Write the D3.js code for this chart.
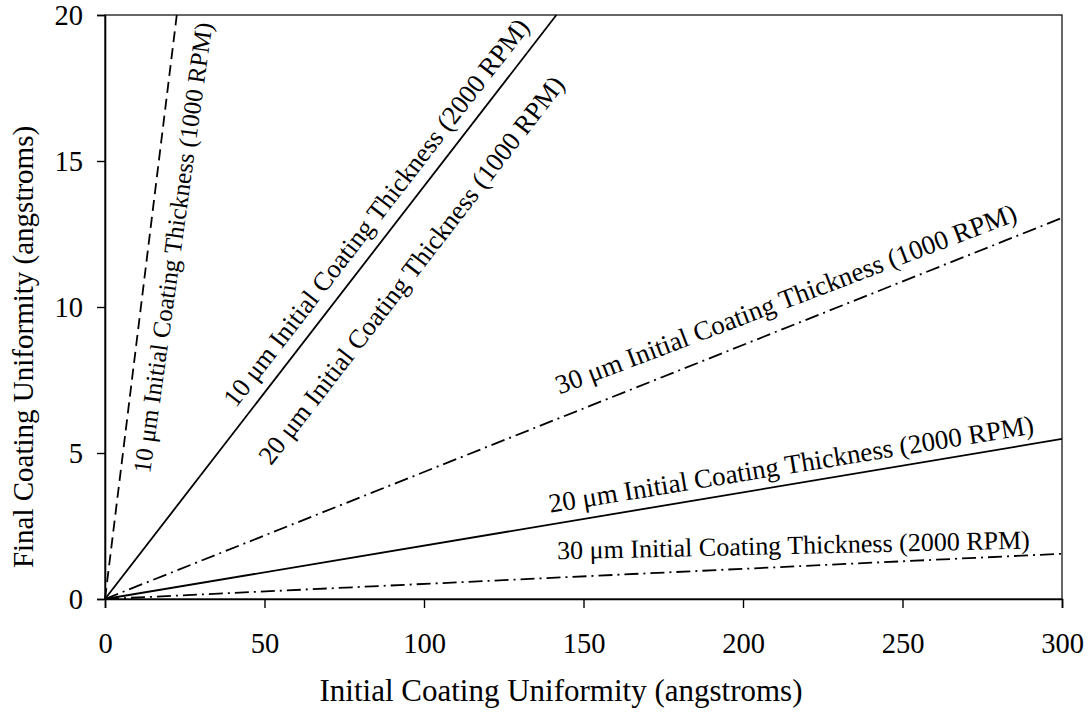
<!DOCTYPE html>
<html>
<head>
<meta charset="utf-8">
<script src="https://cdn.jsdelivr.net/npm/d3@7"></script>
<style>
  html, body { margin: 0; padding: 0; background: #fff; }
  svg { display: block; font-family: "Liberation Serif", "Times New Roman", serif; }
</style>
</head>
<body>
<svg id="chart" width="1090" height="715"></svg>
<script>
// Axis ticks
const xTicks = [0, 50, 100, 150, 200, 250, 300];
const yTicks = [0, 5, 10, 15, 20];

// Each series is a straight line from the origin to where it leaves the plot
const series10um1000 = [[0, 0], [22.5, 20]];
const series10um2000 = [[0, 0], [141.5, 20]];
const series30um1000 = [[0, 0], [300, 13.05]];
const series20um2000 = [[0, 0], [300, 5.48]];
const series30um2000 = [[0, 0], [300, 1.55]];

const labelTexts = [
  "10 \u03bcm Initial Coating Thickness (1000 RPM)",
  "10 \u03bcm Initial Coating Thickness (2000 RPM)",
  "20 \u03bcm Initial Coating Thickness (1000 RPM)",
  "30 \u03bcm Initial Coating Thickness (1000 RPM)",
  "20 \u03bcm Initial Coating Thickness (2000 RPM)",
  "30 \u03bcm Initial Coating Thickness (2000 RPM)"
];

const margin = { left: 105, right: 28, top: 15, bottom: 116 };
const W = 1090, H = 715;
const svg = d3.select("#chart");

const x = d3.scaleLinear().domain([0, 300]).range([margin.left, W - margin.right]);
const y = d3.scaleLinear().domain([0, 20]).range([H - margin.bottom, margin.top]);

const lines = [
  { data: series10um1000, dash: "11,6" },
  { data: series10um2000, dash: null },
  { data: series30um1000, dash: "14,5,2,5" },
  { data: series20um2000, dash: null },
  { data: series30um2000, dash: "14,5,2,5" }
];

// Label anchors (data units), baseline angles and sizes
const labelPlacement = [
  { at: [14.1, 4.28], angle: -82.1, size: 25 },
  { at: [41.0, 6.52], angle: -52.3, size: 26.5 },
  { at: [52.0, 4.55], angle: -52.3, size: 26.5 },
  { at: [142.5, 7.0], angle: -20.8, size: 27 },
  { at: [139.6, 2.95], angle: -9.3, size: 27 },
  { at: [141.8, 1.36], angle: -1.3, size: 26 }
];

// Frame
svg.append("rect")
  .attr("x", x(0)).attr("y", y(20))
  .attr("width", x(300) - x(0)).attr("height", y(0) - y(20))
  .attr("fill", "none").attr("stroke", "#000").attr("stroke-width", 1.2);

// Axes
const xAxis = svg.append("g")
  .attr("transform", `translate(0,${y(0)})`)
  .call(d3.axisBottom(x).tickValues(xTicks).tickSize(9).tickPadding(25).tickFormat(d3.format("d")));
const yAxis = svg.append("g")
  .attr("transform", `translate(${x(0)},0)`)
  .call(d3.axisLeft(y).tickValues(yTicks).tickSize(8).tickPadding(14).tickFormat(d3.format("d")));

[xAxis, yAxis].forEach(g => {
  g.select(".domain").attr("stroke", "#000").attr("stroke-width", 1.6);
  g.selectAll(".tick line").attr("stroke", "#000").attr("stroke-width", 1.4);
  g.selectAll(".tick text")
    .attr("fill", "#000")
    .style("font-family", "'Liberation Serif', 'Times New Roman', serif")
    .style("font-size", "28.5px");
});
yAxis.selectAll(".tick text").attr("dy", "0.35em");

// Series lines
const lineGen = d3.line().x(d => x(d[0])).y(d => y(d[1]));
svg.append("g").selectAll("path")
  .data(lines)
  .join("path")
  .attr("d", d => lineGen(d.data))
  .attr("fill", "none")
  .attr("stroke", "#000")
  .attr("stroke-width", 1.8)
  .attr("stroke-dasharray", d => d.dash);

// Line annotations
svg.append("g").selectAll("text")
  .data(labelTexts)
  .join("text")
  .attr("transform", (d, i) => {
    const p = labelPlacement[i];
    return `translate(${x(p.at[0])},${y(p.at[1])}) rotate(${p.angle})`;
  })
  .attr("font-size", (d, i) => labelPlacement[i].size)
  .attr("fill", "#000")
  .text(d => d);

// Axis titles
svg.append("text")
  .attr("x", 561)
  .attr("y", 701)
  .attr("text-anchor", "middle")
  .attr("font-size", 31)
  .text("Initial Coating Uniformity (angstroms)");

svg.append("text")
  .attr("transform", `translate(33,${(y(0) + y(20)) / 2 + 40}) rotate(-90)`)
  .attr("text-anchor", "middle")
  .attr("font-size", 29)
  .text("Final Coating Uniformity (angstroms)");
</script>
</body>
</html>
